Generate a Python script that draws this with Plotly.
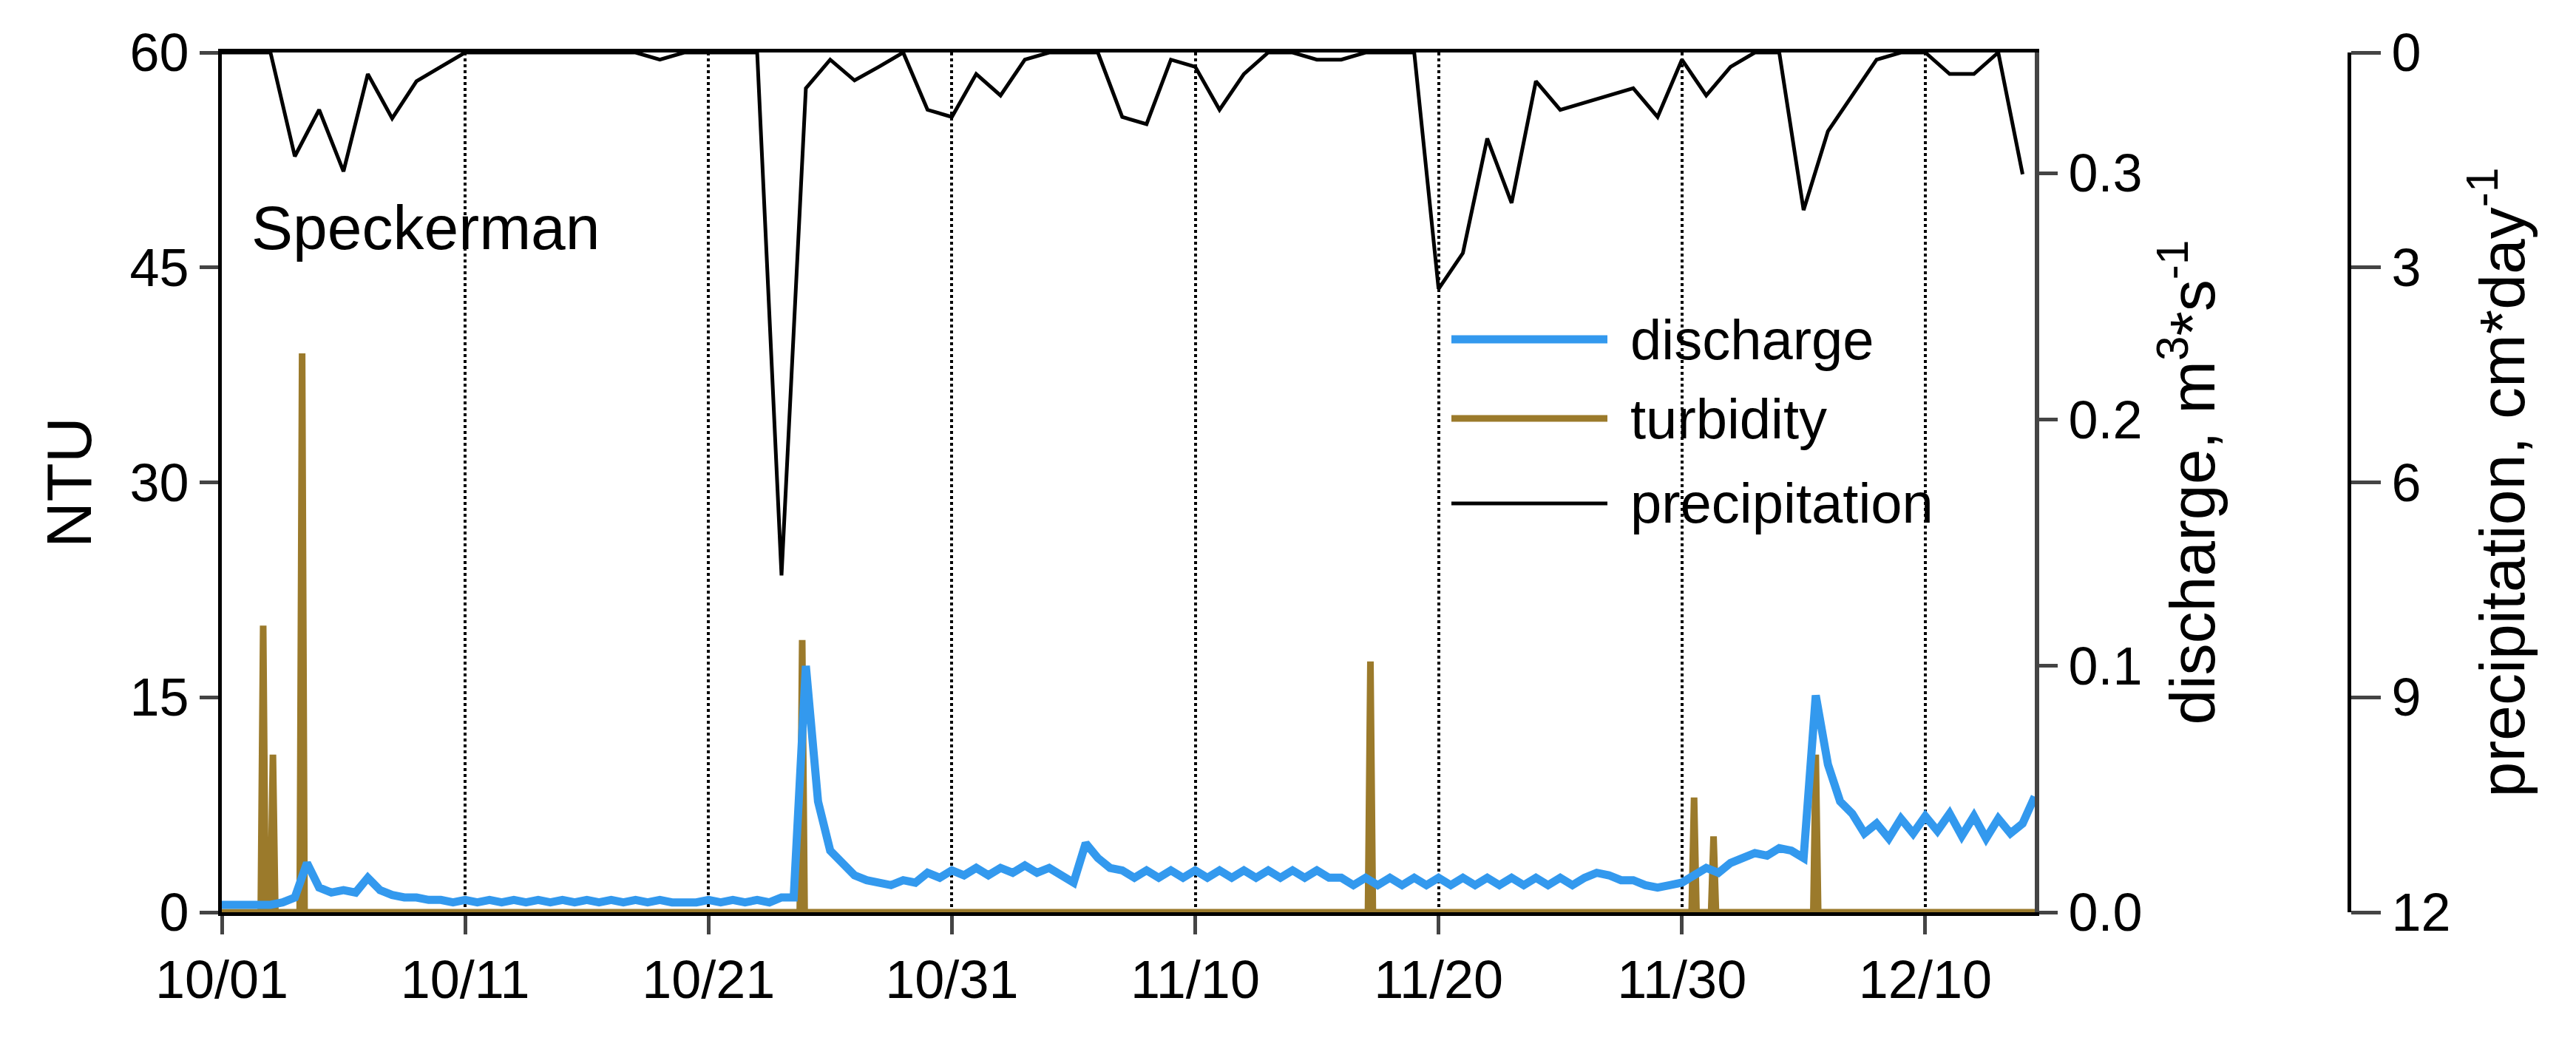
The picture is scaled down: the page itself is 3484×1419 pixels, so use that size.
import pandas as pd
import plotly.graph_objects as go

base = pd.Timestamp("2015-10-01")

# precipitation, cm/day, daily from 10/01
precip_day = list(range(75))
precip = [0, 0, 0, 1.45, 0.8, 1.66, 0.3, 0.92, 0.4, 0.2,
          0, 0, 0, 0, 0, 0, 0, 0, 0.1, 0,
          0, 0, 0, 7.3, 0.5, 0.1, 0.39, 0.2, 0, 0.8,
          0.9, 0.3, 0.6, 0.1, 0, 0, 0, 0.9, 1.0, 0.1,
          0.2, 0.8, 0.3, 0, 0, 0.1, 0.1, 0, 0, 0,
          3.3, 2.8, 1.2, 2.1, 0.4, 0.8, 0.7, 0.6, 0.5, 0.9,
          0.1, 0.6, 0.2, 0, 0, 2.2, 1.1, 0.6, 0.1, 0,
          0, 0.3, 0.3, 0, 1.7]

# discharge, m3/s, half-day steps
q_day = [i * 0.5 for i in range(150)]
discharge = [0.003, 0.003, 0.003, 0.003, 0.003, 0.004, 0.006, 0.02, 0.01, 0.008,
             0.009, 0.008, 0.014, 0.009, 0.007, 0.006, 0.006, 0.005, 0.005, 0.004,
             0.005, 0.004, 0.005, 0.004, 0.005, 0.004, 0.005, 0.004, 0.005, 0.004,
             0.005, 0.004, 0.005, 0.004, 0.005, 0.004, 0.005, 0.004, 0.004, 0.004,
             0.005, 0.004, 0.005, 0.004, 0.005, 0.004, 0.006, 0.006, 0.1, 0.045,
             0.025, 0.02, 0.015, 0.013, 0.012, 0.011, 0.013, 0.012, 0.016, 0.014,
             0.017, 0.015, 0.018, 0.015, 0.018, 0.016, 0.019, 0.016, 0.018, 0.015,
             0.012, 0.028, 0.022, 0.018, 0.017, 0.014, 0.017, 0.014, 0.017, 0.014,
             0.017, 0.014, 0.017, 0.014, 0.017, 0.014, 0.017, 0.014, 0.017, 0.014,
             0.017, 0.014, 0.014, 0.011, 0.014, 0.011, 0.014, 0.011, 0.014, 0.011,
             0.014, 0.011, 0.014, 0.011, 0.014, 0.011, 0.014, 0.011, 0.014, 0.011,
             0.014, 0.011, 0.014, 0.016, 0.015, 0.013, 0.013, 0.011, 0.010, 0.011,
             0.012, 0.015, 0.018, 0.016, 0.02, 0.022, 0.024, 0.023, 0.026, 0.025,
             0.022, 0.088, 0.06, 0.045, 0.04, 0.032, 0.036, 0.03, 0.038, 0.032,
             0.039, 0.033, 0.040, 0.031, 0.039, 0.03, 0.038, 0.032, 0.036, 0.047]

# turbidity, NTU
turb_day = [0, 1.6, 1.7, 1.8, 2.0, 2.1, 2.2, 3.2, 3.3, 3.4,
            23.75, 23.85, 23.95, 47.1, 47.2, 47.3, 60.4, 60.5, 60.6,
            61.2, 61.3, 61.4, 65.4, 65.5, 65.6, 74.5]
turbidity = [0, 0, 20, 0, 0, 11, 0, 0, 39, 0,
             0, 19, 0, 0, 17.5, 0, 0, 8, 0,
             0, 5.3, 0, 0, 11, 0, 0]

series_names = ["discharge", "turbidity", "precipitation"]
series_colors = ["#3399EE", "#9B7A2B", "black"]
series_widths = [11, 9, 5]

def to_dates(days):
    return [base + pd.Timedelta(days=d) for d in days]

tickvals = to_dates([0, 10, 20, 30, 40, 50, 60, 70])

fig = go.Figure()
fig.add_trace(go.Scatter(x=to_dates(q_day), y=discharge, name=series_names[0], yaxis="y2",
                         mode="lines", line=dict(color=series_colors[0], width=series_widths[0])))
fig.add_trace(go.Scatter(x=to_dates(turb_day), y=turbidity, name=series_names[1], yaxis="y",
                         mode="lines", line=dict(color=series_colors[1], width=series_widths[1])))
fig.add_trace(go.Scatter(x=to_dates(precip_day), y=precip, name=series_names[2], yaxis="y3",
                         mode="lines", line=dict(color=series_colors[2], width=series_widths[2])))

TOP, BOT, H = 63, 193, 1419
def py(yy):
    return 1 - (yy - TOP) / (H - TOP - BOT)

# manual legend
shapes, annos = [], []
rows_y = [451, 558, 673]
for name, col, w, yy in zip(series_names, series_colors, series_widths, rows_y):
    shapes.append(dict(type="line", xref="paper", yref="paper", x0=1955 / 3484, x1=2166 / 3484,
                       y0=py(yy), y1=py(yy), line=dict(color=col, width=w)))
    annos.append(dict(text=name, x=2195 / 3484, y=py(yy), xref="paper", yref="paper",
                      xanchor="left", yanchor="middle", showarrow=False, font=dict(size=76)))
annos.append(dict(text="Speckerman", x=330 / 3484, y=py(300), xref="paper", yref="paper",
                  xanchor="left", yanchor="middle", showarrow=False, font=dict(size=84)))

font = dict(family="Liberation Sans, Arial", size=72, color="black")
tfont = dict(size=86)
dom = [292 / 3484, 2744 / 3484]
fig.update_layout(
    width=3484, height=1419, paper_bgcolor="white", plot_bgcolor="white", showlegend=False,
    margin=dict(l=0, r=0, t=TOP, b=BOT, autoexpand=False), font=font,
    xaxis=dict(domain=dom, type="date", range=[base, base + pd.Timedelta(days=74.5)],
               tickvals=tickvals, tickformat="%m/%d", ticks="outside", ticklen=25, tickwidth=5,
               showline=True, linewidth=5, linecolor="black", mirror=True, automargin=False,
               showgrid=True, gridcolor="black", griddash="dot", gridwidth=4, zeroline=False),
    yaxis=dict(range=[0, 60], tickvals=[0, 15, 30, 45, 60], ticks="outside", ticklen=25, tickwidth=5,
               showline=True, linewidth=5, linecolor="black", showgrid=False, zeroline=False,
               automargin=False, title=dict(text="NTU", standoff=25, font=tfont)),
    yaxis2=dict(range=[0, 0.349], overlaying="y", side="right", anchor="x", automargin=False,
                tickvals=[0, 0.1, 0.2, 0.3], tickformat=".1f", ticks="outside", ticklen=25, tickwidth=5,
                showline=True, linewidth=6, linecolor="#444", showgrid=False, zeroline=False,
                title=dict(text="discharge, m<sup>3</sup>*s<sup>-1</sup>", standoff=40, font=tfont)),
    yaxis3=dict(range=[12, 0], overlaying="y", side="right", anchor="free", position=3169 / 3484,
                tickvals=[0, 3, 6, 9, 12], ticks="outside", ticklen=40, tickwidth=5, automargin=False,
                showline=True, linewidth=5, linecolor="black", showgrid=False, zeroline=False,
                title=dict(text="precipitation, cm*day<sup>-1</sup>", standoff=40, font=tfont)),
    shapes=shapes, annotations=annos,
)
fig.write_html("out.html")
